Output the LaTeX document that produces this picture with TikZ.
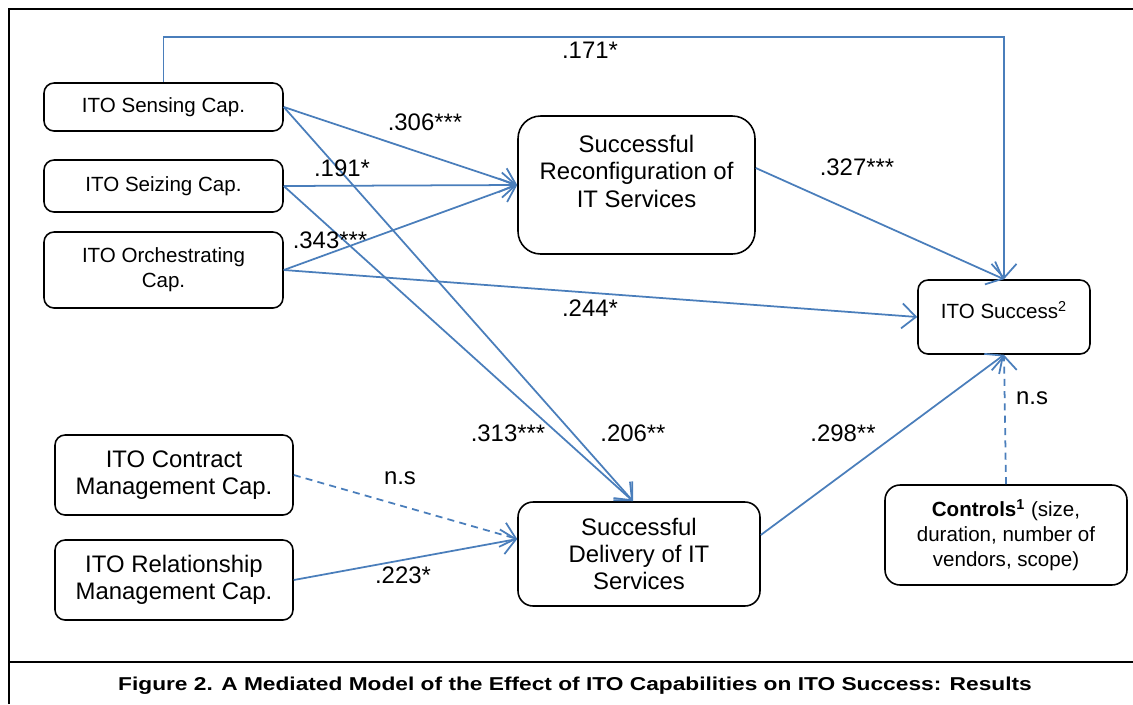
\documentclass[tikz,border=0pt]{standalone}
\usepackage{fontspec}
\setmainfont{Liberation Sans}
\newfontfamily\titlufont[FakeStretch=1.22]{Liberation Sans}
\usetikzlibrary{arrows.meta}
\definecolor{albastru}{RGB}{74,126,187}

\begin{document}
\begin{tikzpicture}[x=0.02cm,y=-0.02cm,
  caseta/.style={draw,line width=0.9pt,rounded corners=0.2cm,align=center,inner sep=0pt},
  mic/.style={font=\fontsize{11.7}{14.2}\selectfont},
  mare/.style={font=\fontsize{13.6}{15.6}\selectfont},
  sageata/.style={albastru,line width=1pt,-{Straight Barb[length=0.28cm,width=0.5cm]}},
  coef/.style={font=\fontsize{13.6}{15.6}\selectfont,inner sep=0pt}]
  \useasboundingbox (0,0) rectangle (1133,704);
  % chenar
  \draw[line width=1.2pt] (9,704) -- (9,9) -- (1133,9);
  \draw[line width=1.2pt] (9,662) -- (1133,662);

  % capabilitati
  \node[caseta,mic,minimum width=4.78cm,minimum height=0.96cm] (sense) at (163.5,107) {ITO Sensing Cap.};
  \node[caseta,mic,minimum width=4.78cm,minimum height=1.04cm] (seize) at (163.5,186) {ITO Seizing Cap.};
  \node[caseta,mic,minimum width=4.78cm,minimum height=1.52cm] (orch) at (163.5,270) {ITO Orchestrating\\Cap.};
  \node[caseta,mare,minimum width=4.76cm,minimum height=1.6cm] (contract) at (174,475) {ITO Contract\\Management Cap.};
  \node[caseta,mare,minimum width=4.76cm,minimum height=1.6cm] (relation) at (174,580) {ITO Relationship\\Management Cap.};

  % mediatori
  \node[caseta,mare,rounded corners=0.45cm,minimum width=4.74cm,minimum height=2.76cm,text depth=0.56cm] (reconf) at (636.5,185) {Successful\\Reconfiguration of\\IT Services};
  \node[caseta,mare,rounded corners=0.3cm,minimum width=4.84cm,minimum height=2.08cm] (deliver) at (639,554) {Successful\\Delivery of IT\\Services};

  % rezultat si controale
  \node[caseta,mic,minimum width=3.44cm,minimum height=1.48cm,text depth=0.28cm] (success) at (1004,317) {ITO Success\textsuperscript{2}};
  \node[caseta,mic,rounded corners=0.3cm,minimum width=4.84cm,minimum height=2cm] (controls) at (1006,535) {\textbf{Controls\textsuperscript{1}} (size,\\duration, number of\\vendors, scope)};

  % sageti
  \draw[sageata] (sense.north) -- ++(0,-45) -| (success.north);
  \draw[sageata] (sense.east) -- (reconf.west);
  \draw[sageata] (sense.east) -- ([xshift=-0.12cm]deliver.north);
  \draw[sageata] (seize.east) -- (reconf.west);
  \draw[sageata] (seize.east) -- ([xshift=-0.12cm]deliver.north);
  \draw[sageata] (orch.east) -- (reconf.west);
  \draw[sageata] (orch.east) -- (success.west);
  \draw[sageata] ([yshift=0.34cm]reconf.east) -- (success.north);
  \draw[sageata] ([yshift=0.38cm]deliver.east) -- (success.south);
  \draw[sageata,dash pattern=on 4pt off 3pt] (contract.east) -- ([yshift=0.3cm]deliver.west);
  \draw[sageata] (relation.east) -- ([yshift=0.3cm]deliver.west);
  \draw[sageata,dash pattern=on 4pt off 3pt] (controls.north) -- (success.south);

  % coeficienti
  \foreach \x/\y/\t [count=\i] in {590/50/.171*, 425/122/.306***, 342/168/.191*,
    330/240/.343***, 857/167/.327***, 590/308/.244*, 508/433/.313***,
    633/433/.206**, 843/433/.298**, 400/478/n.s, 403/575/.223*, 1032/398/n.s}
  {
    \node[coef] (k\i) at (\x,\y) {\t};
  }

  % titlu
  \node[font=\titlufont\fontsize{10.6}{12}\selectfont\bfseries] (titlu) at (575,686) {Figure 2. A Mediated Model of the Effect of ITO Capabilities on ITO Success: Results};
\end{tikzpicture}
\end{document}
